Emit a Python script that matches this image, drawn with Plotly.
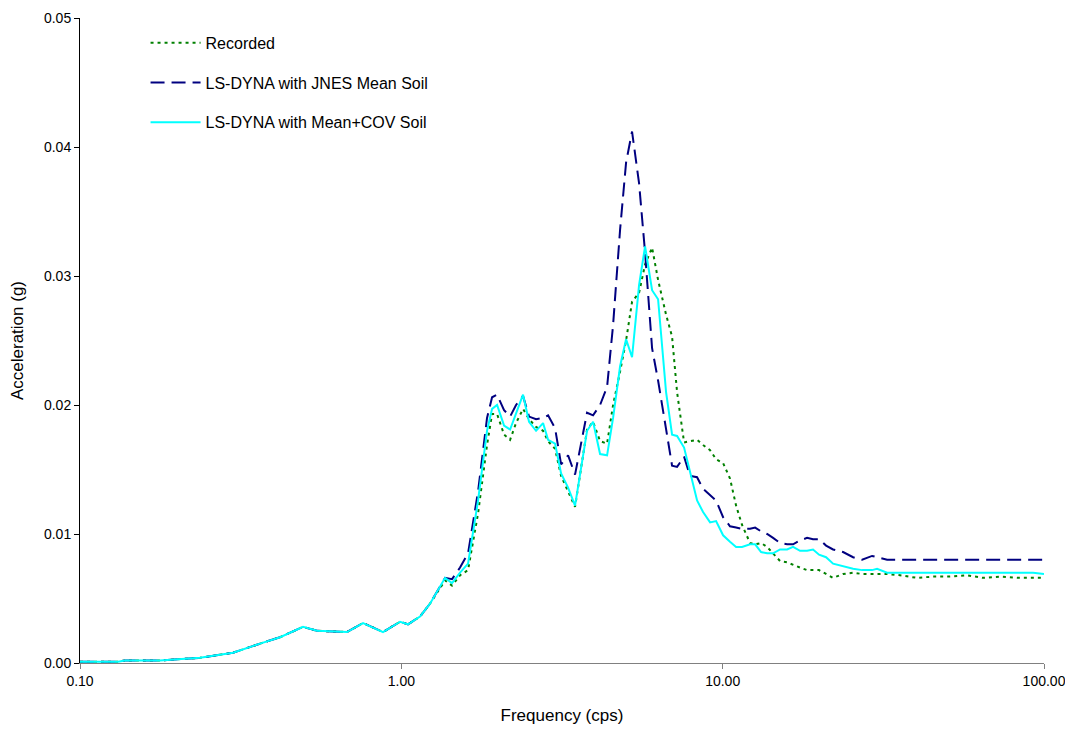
import plotly.graph_objects as go

freq = [0.1000, 0.1313, 0.1381, 0.1774, 0.2363, 0.2994, 0.3633, 0.4194, 0.4944, 0.5467,
        0.6776, 0.7600, 0.8770, 0.9908, 1.049, 1.143, 1.228, 1.368, 1.438, 1.523,
        1.613, 1.733, 1.848, 1.916, 1.986, 2.088, 2.180, 2.275, 2.392, 2.497,
        2.626, 2.761, 2.862, 3.009, 3.142, 3.303, 3.472, 3.625, 3.784, 3.951,
        4.154, 4.368, 4.560, 4.795, 5.005, 5.224, 5.493, 5.735, 6.030, 6.295,
        6.666, 6.959, 7.213, 7.584, 7.917, 8.325, 8.690, 9.138, 9.539, 10.03,
        10.54, 11.01, 11.49, 12.17, 12.62, 13.17, 13.75, 14.35, 15.09, 15.87,
        16.56, 17.41, 18.31, 19.11, 19.95, 20.98, 22.06, 23.70, 25.46, 27.17,
        29.17, 30.24, 32.49, 35.65, 40.27, 45.17, 51.03, 57.65, 64.64, 73.03,
        82.48, 92.50, 100.0]

low = [0.0001, 0.0001, 0.0002, 0.0002, 0.0004, 0.0008, 0.0015, 0.0020, 0.0028, 0.0025,
       0.0024, 0.0031, 0.0024, 0.0032, 0.0030, 0.0036, 0.0046]

recorded = low + [
    0.0064, 0.0060, 0.0068, 0.0072, 0.0116, 0.0169, 0.0193, 0.0193, 0.0177, 0.0173,
    0.0186, 0.0197, 0.0189, 0.0183, 0.0180, 0.0172, 0.0166, 0.0145, 0.0133, 0.0121,
    0.0151, 0.0181, 0.0187, 0.0172, 0.0170, 0.0200, 0.0226, 0.0250, 0.0280, 0.0287,
    0.0309, 0.0322, 0.0297, 0.0270, 0.0253, 0.0210, 0.0171, 0.0172, 0.0173, 0.0169,
    0.0165, 0.0158, 0.0155, 0.0143, 0.0122, 0.0107, 0.0093, 0.0092, 0.0093, 0.0090,
    0.0085, 0.0079, 0.0078, 0.0076, 0.0074, 0.0072, 0.0072, 0.0072, 0.0069, 0.0066,
    0.0069, 0.0070, 0.0069, 0.0069, 0.0069, 0.0069, 0.0068, 0.0066, 0.0067, 0.0067,
    0.0068, 0.0066, 0.0067, 0.0066, 0.0066, 0.0066]

jnes_mean = low + [
    0.0066, 0.0065, 0.0074, 0.0085, 0.0133, 0.0190, 0.0206, 0.0208, 0.0196, 0.0191,
    0.0200, 0.0207, 0.0191, 0.0189, 0.0190, 0.0192, 0.0182, 0.0154, 0.0161, 0.0146,
    0.0170, 0.0194, 0.0192, 0.0200, 0.0214, 0.0262, 0.0336, 0.0388, 0.0412, 0.0372,
    0.0318, 0.0244, 0.0219, 0.0181, 0.0153, 0.0152, 0.0160, 0.0145, 0.0144, 0.0135,
    0.0130, 0.0126, 0.0113, 0.0106, 0.0105, 0.0104, 0.0104, 0.0105, 0.0102, 0.0100,
    0.0097, 0.0093, 0.0092, 0.0092, 0.0095, 0.0097, 0.0096, 0.0096, 0.0091, 0.0088,
    0.0086, 0.0082, 0.0080, 0.0083, 0.0082, 0.0080, 0.0080, 0.0080, 0.0080, 0.0080,
    0.0080, 0.0080, 0.0080, 0.0080, 0.0080, 0.0080]

mean_cov = low + [
    0.0066, 0.0062, 0.0070, 0.0077, 0.0126, 0.0180, 0.0197, 0.0200, 0.0184, 0.0181,
    0.0194, 0.0208, 0.0187, 0.0180, 0.0186, 0.0173, 0.0170, 0.0147, 0.0136, 0.0122,
    0.0151, 0.0180, 0.0187, 0.0162, 0.0161, 0.0190, 0.0230, 0.0251, 0.0237, 0.0293,
    0.0323, 0.0289, 0.0282, 0.0210, 0.0177, 0.0176, 0.0167, 0.0149, 0.0126, 0.0117,
    0.0109, 0.0110, 0.0099, 0.0094, 0.0090, 0.0090, 0.0092, 0.0092, 0.0086, 0.0085,
    0.0085, 0.0088, 0.0088, 0.0090, 0.0087, 0.0087, 0.0088, 0.0084, 0.0082, 0.0077,
    0.0075, 0.0073, 0.0072, 0.0072, 0.0073, 0.0070, 0.0070, 0.0070, 0.0070, 0.0070,
    0.0070, 0.0070, 0.0070, 0.0070, 0.0070, 0.0069]

names = ["Recorded", "LS-DYNA with JNES Mean Soil", "LS-DYNA with Mean+COV Soil"]
FONT = "Arial, Liberation Sans, sans-serif"

fig = go.Figure()
fig.add_trace(go.Scatter(x=freq, y=recorded, mode="lines", name=names[0], legendgroup="a",
                         line=dict(color="#008000", width=2, dash="3px,4px")))
fig.add_trace(go.Scatter(x=freq, y=jnes_mean, mode="lines", name=names[1], legendgroup="b",
                         line=dict(color="#000080", width=2, dash="14px,7px")))
fig.add_trace(go.Scatter(x=freq, y=mean_cov, mode="lines", name=names[2], legendgroup="c",
                         line=dict(color="#00FFFF", width=2)))

fig.update_layout(
    width=1073, height=732,
    margin=dict(l=72, r=37, t=10, b=77, autoexpand=False),
    paper_bgcolor="white", plot_bgcolor="white",
    font=dict(family=FONT, size=14, color="black"),
    showlegend=True,
    legend=dict(x=0.068, y=0.988, xanchor="left", yanchor="top",
                bgcolor="rgba(0,0,0,0)", font=dict(size=16, family=FONT),
                tracegroupgap=16, itemwidth=50),
    xaxis=dict(type="log", range=[-1, 2], automargin=False,
               tickvals=[0.1, 1, 10, 100], ticktext=["0.10", "1.00", "10.00", "100.00"],
               showgrid=False, zeroline=False, showline=True, linecolor="#808080", linewidth=1,
               ticks="outside", ticklen=5, tickcolor="#808080",
               tickfont=dict(size=14, family=FONT), ticklabeloverflow="allow",
               title=dict(text="Frequency (cps)", font=dict(size=17, family=FONT), standoff=21)),
    yaxis=dict(range=[0, 0.05], dtick=0.01, tickformat=".2f", automargin=False,
               showgrid=False, zeroline=False, showline=True, linecolor="black", linewidth=1,
               ticks="outside", ticklen=5, tickcolor="black",
               tickfont=dict(size=14, family=FONT), ticklabeloverflow="allow",
               title=dict(text="Acceleration (g)", font=dict(size=17, family=FONT), standoff=16)),
)

fig.write_html("out.html")
